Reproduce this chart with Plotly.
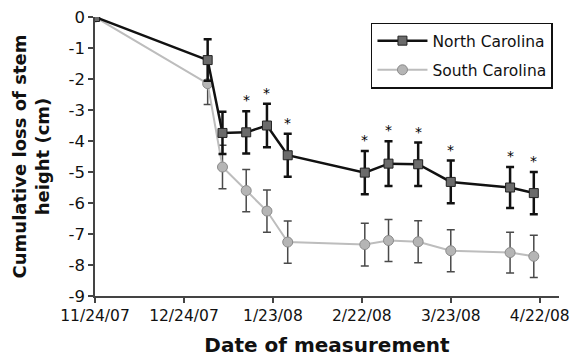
import plotly.graph_objects as go

dates = ["2007-11-24", "2008-01-01", "2008-01-06", "2008-01-14", "2008-01-21", "2008-01-28",
         "2008-02-23", "2008-03-02", "2008-03-12", "2008-03-23", "2008-04-12", "2008-04-20"]
nc_values = [0, -1.39, -3.74, -3.72, -3.50, -4.46, -5.02, -4.73, -4.75, -5.32, -5.50, -5.68]
nc_err = [0, 0.67, 0.68, 0.68, 0.70, 0.69, 0.70, 0.72, 0.70, 0.69, 0.66, 0.68]
sc_values = [0, -2.15, -4.84, -5.60, -6.26, -7.26, -7.34, -7.21, -7.25, -7.54, -7.60, -7.72]
sc_err = [0, 0.67, 0.70, 0.68, 0.68, 0.68, 0.69, 0.68, 0.68, 0.68, 0.66, 0.68]
significant = [False, False, False, True, True, True, True, True, True, True, True, True]

x_tickvals = ["2007-11-24", "2007-12-24", "2008-01-23", "2008-02-22", "2008-03-23", "2008-04-22"]
x_ticktext = ["11/24/07", "12/24/07", "1/23/08", "2/22/08", "3/23/08", "4/22/08"]
y_tickvals = [0, -1, -2, -3, -4, -5, -6, -7, -8, -9]
y_ticktext = ["0", "-1", "-2", "-3", "-4", "-5", "-6", "-7", "-8", "-9"]

FONT = "DejaVu Sans"

fig = go.Figure()
fig.add_trace(go.Scatter(
    x=dates, y=sc_values, name="South Carolina", mode="lines+markers",
    legendgroup="sc", legendrank=2,
    line=dict(color="#bdbdbd", width=2),
    marker=dict(symbol="circle", size=10, color="#b5b5b5", line=dict(color="#8a8a8a", width=1)),
    error_y=dict(type="data", array=sc_err, color="#4a4a4a", thickness=1.5, width=4),
))
fig.add_trace(go.Scatter(
    x=dates, y=nc_values, name="North Carolina", mode="lines+markers",
    legendgroup="nc", legendrank=1,
    line=dict(color="#111111", width=2.5),
    marker=dict(symbol="square", size=9, color="#6b6b6b", line=dict(color="#222222", width=1)),
    error_y=dict(type="data", array=nc_err, color="#111111", thickness=2.5, width=4),
))

for d, v, e, s in zip(dates, nc_values, nc_err, significant):
    if s:
        fig.add_annotation(x=d, y=v + e, xref="x", yref="y", text="*", showarrow=False,
                           yanchor="bottom", yshift=1, font=dict(family=FONT, size=14, color="#000"))

fig.update_layout(
    width=570, height=357,
    margin=dict(l=95, r=11, t=17, b=61),
    paper_bgcolor="white", plot_bgcolor="white",
    font=dict(family=FONT, size=16, color="#111"),
    showlegend=True,
    legend=dict(
        x=0.987, y=0.98, xanchor="right", yanchor="top",
        traceorder="grouped", tracegroupgap=6, itemwidth=50,
        bordercolor="#111", borderwidth=1.5, bgcolor="white",
        font=dict(family=FONT, size=15.5, color="#111"),
    ),
    xaxis=dict(
        type="date", range=["2007-11-24", "2008-04-28 12:00"], automargin=False,
        tickmode="array", tickvals=x_tickvals, ticktext=x_ticktext,
        showgrid=False, zeroline=False, showline=True, linecolor="#444", linewidth=1.5,
        ticks="outside", ticklen=5, tickcolor="#444", tickwidth=1.5,
        tickfont=dict(size=15.5), ticklabeloverflow="allow",
        title=dict(text="<b>Date of measurement</b>", font=dict(family=FONT, size=20), standoff=16),
    ),
    yaxis=dict(
        range=[-9, 0], tickmode="array", tickvals=y_tickvals, ticktext=y_ticktext, automargin=False,
        showgrid=False, zeroline=False, showline=True, linecolor="#444", linewidth=1.5,
        ticks="outside", ticklen=5, tickcolor="#444", tickwidth=1.5,
        tickfont=dict(size=16.5),
        title=dict(text="<b>Cumulative loss of stem<br>height (cm)</b>", font=dict(family=FONT, size=18), standoff=14),
    ),
)

fig.write_html("out.html")
